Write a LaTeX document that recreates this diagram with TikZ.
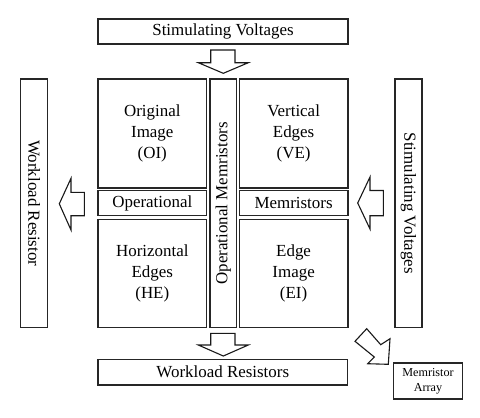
\documentclass[tikz,border=0pt]{standalone}
\usepackage{fontspec}
\setmainfont{Liberation Serif}
\begin{document}
\begin{tikzpicture}[x=1bp,y=-1bp,
  box/.style={draw=black!85, line width=1.2bp, fill=white, inner sep=0pt, align=center,
    font=\fontsize{17}{21}\selectfont},
  blockarrow/.style={draw=black!90, line width=1.1bp, fill=white, line join=miter}]
\useasboundingbox (0,0) rectangle (480,417);
% top and bottom bars
\node[box, minimum width=250bp, minimum height=25bp] (top) at (223,31.5) {Stimulating Voltages};
\node[box, minimum width=249.7bp, minimum height=25.5bp] (bot) at (222.8,372.2) {Workload Resistors};
% quadrant boxes
\node[box, minimum width=108.7bp, minimum height=109bp] (oi) at (152.3,133.5) {Original\\Image\\(OI)};
\node[box, minimum width=108.7bp, minimum height=109bp] (ve) at (293.6,133.5) {Vertical\\Edges\\(VE)};
\node[box, minimum width=108.7bp, minimum height=108.4bp] (he) at (152.3,273.5) {Horizontal\\Edges\\(HE)};
\node[box, minimum width=108.7bp, minimum height=108.4bp] (ei) at (293.6,273.5) {Edge\\Image\\(EI)};
\node[box, minimum width=108.7bp, minimum height=25bp] (op) at (152.3,203.2) {Operational};
\node[box, minimum width=108.7bp, minimum height=25bp] (mem) at (293.6,203.2) {Memristors};
% central column
\node[box, rotate=90, minimum width=248.7bp, minimum height=26.7bp] (col) at (223.3,203.3) {Operational Memristors};
% side bars
\node[box, rotate=-90, minimum width=248.7bp, minimum height=26.6bp] (left) at (34,203.3) {Workload Resistor};
\node[box, rotate=-90, minimum width=248.7bp, minimum height=27bp] (right) at (408.5,203.3) {Stimulating Voltages};
% memristor array
\node[box, font=\fontsize{12.2}{15.5}\selectfont, minimum width=68.7bp, minimum height=36bp] (arr) at (428,381) {Memristor\\Array};
% block arrows
\draw[blockarrow] (210.7,50) -- (235,50) -- (235,62.7) -- (248.3,62.7) -- (223.3,73.3) -- (198.3,62.7) -- (210.7,62.7) -- cycle;
\draw[blockarrow] (210.7,333.3) -- (235,333.3) -- (235,345) -- (248.3,345) -- (223.3,356) -- (198.3,345) -- (210.7,345) -- cycle;
\draw[blockarrow] (84.3,192.3) -- (84.3,215.7) -- (71,215.7) -- (71,230) -- (59.3,203.8) -- (71,178.3) -- (71,192.3) -- cycle;
\draw[blockarrow] (383.3,190.5) -- (383.3,215.7) -- (370,215.7) -- (370,229) -- (357.7,203) -- (370,177) -- (370,190.5) -- cycle;
\draw[blockarrow] (355,341.3) -- (366.7,328.7) -- (380.7,344.7) -- (390,338.7) -- (388.3,364.3) -- (367.7,363.7) -- (374.3,357) -- cycle;
\end{tikzpicture}
\end{document}
